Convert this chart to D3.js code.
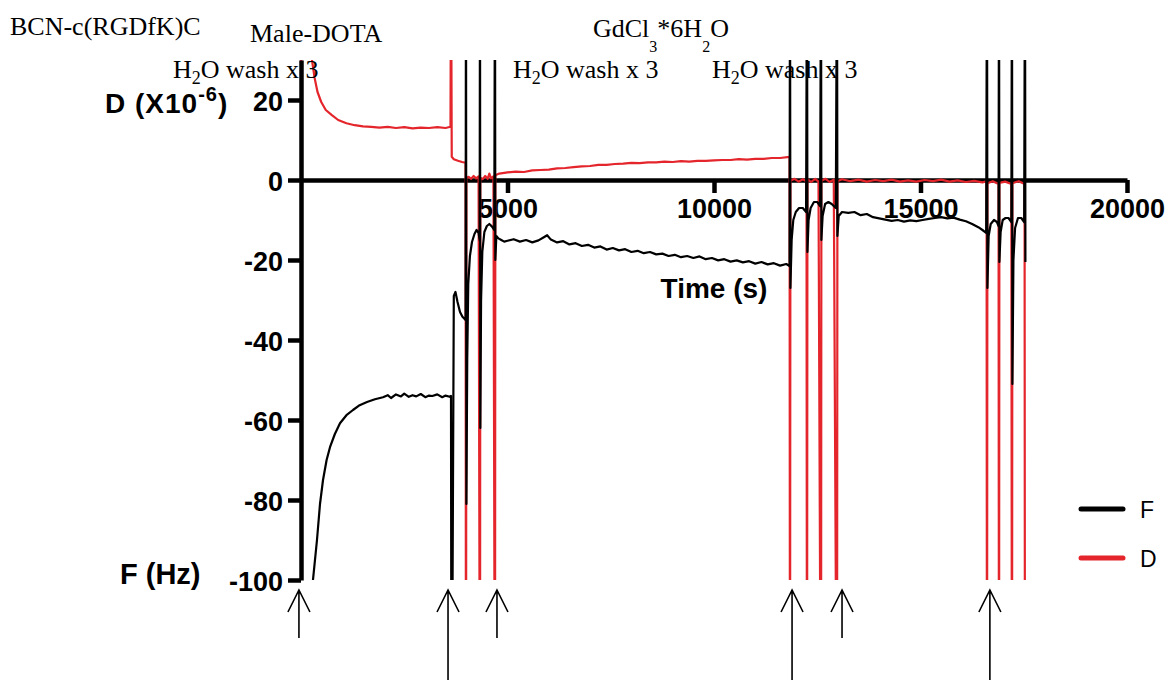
<!DOCTYPE html>
<html>
<head>
<meta charset="utf-8">
<title>QCM-D frequency and dissipation vs time</title>
<script src="https://d3js.org/d3.v7.min.js"></script>
<style>
    body { margin: 0; background: #fff; }
    .note { font-family: "Liberation Serif", "Times New Roman", serif; font-size: 26px; }
    .bold { font-family: "Liberation Sans", Arial, sans-serif; font-weight: bold; }
</style>
</head>
<body>
<svg id="chart" width="1169" height="680"></svg>
<script>
    // axis ticks
    const xTicks = [5000, 10000, 15000, 20000];
    const yTicks = [-100, -80, -60, -40, -20, 0, 20];

    // frequency trace [time s, Hz] (values past the axis range are the off-scale spikes)
    const fSeries = [
        [0, 0], [15, -160], [290, -100], [387, -90], [460, -81], [533, -75], [620, -70], [702, -66.8],
        [820, -63.5], [944, -60.8], [1100, -58.8], [1259, -57.5], [1420, -56.3], [1598, -55.5],
        [1790, -54.8], [1985, -54.3], [2100, -53.8], [2180, -54.5], [2300, -53.6], [2420, -54.1],
        [2500, -53.4], [2610, -54.2], [2700, -53.8], [2790, -54.1], [2900, -53.5], [3010, -54.3],
        [3100, -53.9], [3180, -54.0], [3300, -53.6], [3420, -54.3], [3500, -53.9], [3600, -54.2],
        [3632, -54.0], [3645, -160], [3700, -29], [3740, -28], [3790, -30.5], [3850, -33], [3910, -34.2],
        [3985, -35], [3995, 60], [4005, -81], [4025, -45], [4050, -26], [4090, -19], [4140, -15.5],
        [4200, -13.5], [4250, -12.5], [4300, -13.2], [4326, -15], [4334, 60], [4342, -62], [4360, -30],
        [4390, -18], [4440, -13], [4500, -11.5], [4560, -11], [4620, -11.6], [4680, -12.5],
        [4697, 60], [4705, -20], [4730, -14], [4780, -14.6], [4850, -15], [4920, -15.4],
        [5000, -15.2], [5150, -14.8], [5300, -15.4], [5450, -15.0], [5600, -15.6], [5750, -15.1],
        [5880, -14.3], [5960, -13.8], [6050, -14.9], [6200, -15.6], [6350, -15.3], [6500, -16.1],
        [6650, -15.8], [6800, -16.5], [6950, -16.2], [7100, -16.9], [7250, -16.6], [7400, -17.4],
        [7550, -17.0], [7700, -17.6], [7850, -17.3], [8000, -18.0], [8150, -17.7], [8300, -18.3],
        [8450, -18.0], [8600, -18.6], [8750, -18.4], [8900, -19.0], [9050, -18.7], [9200, -19.3],
        [9350, -19.0], [9500, -19.5], [9650, -19.1], [9800, -19.8], [9950, -19.5], [10100, -20.1],
        [10250, -19.8], [10400, -20.4], [10550, -20.1], [10700, -20.6], [10850, -20.3], [11000, -20.9],
        [11150, -20.5], [11300, -21.1], [11450, -20.8], [11600, -21.4], [11750, -21.0], [11830, -21.5],
        [11840, 60], [11850, -27], [11880, -15], [11920, -10], [11980, -8], [12060, -7], [12150, -7],
        [12230, -8], [12252, 60], [12262, -18], [12290, -10], [12340, -7], [12420, -5.5], [12500, -5.5],
        [12570, -6.5], [12591, 60], [12600, -15], [12630, -9], [12690, -6], [12770, -5.5], [12850, -6],
        [12950, -7], [12978, 60], [12988, -14], [13020, -9], [13100, -8], [13250, -8.2], [13400, -8],
        [13550, -8.8], [13700, -8.5], [13850, -9.3], [14000, -9.6], [14150, -9.9], [14300, -10.2],
        [14450, -10.0], [14600, -10.4], [14750, -10.1], [14900, -10.3], [15050, -10.0], [15200, -9.7],
        [15350, -9.5], [15500, -9.3], [15650, -9.6], [15800, -9.4], [15950, -9.9], [16100, -10.3],
        [16250, -11.0], [16400, -11.8], [16500, -12.5], [16590, -13.2],
        [16610, 60], [16620, -27], [16650, -14], [16700, -11], [16780, -10], [16850, -10.5], [16890, -11.5],
        [16901, 60], [16910, -20.5], [16940, -13], [16990, -10], [17060, -9.5], [17130, -9.5], [17200, -10.5],
        [17215, 60], [17225, -51], [17250, -20], [17290, -12], [17360, -9.5], [17440, -9.5], [17510, -10.5],
        [17530, 60], [17540, -20.5]
    ];

    // dissipation trace [time s, X10^-6]
    const dSeries = [
        [0, 0], [12, 60], [266, 30], [330, 25.5], [400, 22], [490, 19.5], [600, 17.5], [740, 16.3],
        [900, 15], [1100, 14.2], [1300, 13.7], [1500, 13.4], [1700, 13.3], [1900, 13.1], [2100, 13.3],
        [2300, 13.0], [2500, 13.2], [2700, 12.9], [2900, 13.1], [3100, 13.0], [3300, 13.2], [3500, 13.0],
        [3620, 13.3], [3632, 60], [3650, 5.8], [3700, 5.2], [3800, 4.8], [3900, 4.5], [3985, 4.3],
        [3995, -160], [4005, 0.5], [4060, 0.8], [4120, 0.3], [4180, 1.0], [4240, 0.4], [4300, 0.9],
        [4334, -160], [4342, 0.6], [4400, 0.2], [4460, 1.0], [4520, 0.3], [4560, 1.6], [4600, 0.4], [4660, 0.9],
        [4697, -160], [4705, 1.2], [4800, 1.6], [5000, 1.9], [5200, 2.1], [5400, 2.0], [5600, 2.4],
        [5800, 2.5], [6000, 2.6], [6200, 2.9], [6400, 3.0], [6600, 3.2], [6800, 3.4], [7000, 3.5],
        [7200, 3.8], [7400, 3.8], [7600, 4.0], [7800, 4.1], [8000, 4.3], [8200, 4.2], [8400, 4.4],
        [8600, 4.4], [8800, 4.6], [9000, 4.5], [9200, 4.7], [9400, 4.6], [9600, 4.8], [9800, 4.8],
        [10000, 4.9], [10200, 5.0], [10400, 5.0], [10600, 5.2], [10800, 5.1], [11000, 5.3], [11200, 5.3],
        [11400, 5.5], [11600, 5.5], [11830, 5.8],
        [11840, -160], [11850, -0.2], [11950, 0.3], [12050, -0.4], [12150, 0.2], [12240, -0.3],
        [12252, -160], [12262, 0.2], [12350, -0.5], [12450, 0.3], [12530, -0.4],
        [12591, -160], [12600, -0.2], [12700, 0.3], [12800, -0.5], [12900, 0.1],
        [12978, -160], [12988, -0.3], [13100, 0.2], [13300, -0.3], [13500, 0.1], [13700, -0.4],
        [13900, 0.0], [14100, -0.3], [14300, 0.1], [14500, -0.4], [14700, -0.1], [14900, -0.4],
        [15100, 0.0], [15300, -0.3], [15500, 0.1], [15700, -0.4], [15900, -0.1], [16100, -0.5],
        [16300, -0.2], [16500, -0.6], [16600, -0.3],
        [16610, -160], [16620, -0.8], [16750, -0.3], [16890, -1.0],
        [16901, -160], [16910, -0.7], [17050, -0.4], [17200, -1.0],
        [17215, -160], [17225, -0.8], [17380, -0.3], [17520, -1.0], [17530, -160]
    ];

    const legendNames = ["F", "D"];
    const seriesColors = ["#000000", "#e4252b"];

    // step annotations, as [text, isSubscript] pieces
    const notes = [
        [["BCN-c(RGDfK)C", 0]],
        [["Male-DOTA", 0]],
        [["H", 0], ["2", 1], ["O wash x 3", 0]],
        [["GdCl", 0], ["3", 1], ["*6H", 0], ["2", 1], ["O", 0]],
        [["H", 0], ["2", 1], ["O wash x 3", 0]],
        [["H", 0], ["2", 1], ["O wash x 3", 0]]
    ];

    // injection arrows under the plot (time s) and whether they are long
    const arrowTimes = [-50, 3560, 4745, 11890, 13100, 16680];
    const arrowLong = [false, true, false, true, false, true];

    const svg = d3.select("#chart");
    svg.append("rect").attr("width", 1169).attr("height", 680).attr("fill", "#fff");

    const x = d3.scaleLinear().domain([0, 20000]).range([301, 1127]);
    const y = d3.scaleLinear().domain([-100, 30]).range([580, 60]);

    svg.append("clipPath").attr("id", "plotclip")
        .append("rect").attr("x", 296).attr("y", 60).attr("width", 840).attr("height", 520);

    // x axis sits on zero
    const xAxis = svg.append("g")
        .attr("transform", "translate(0," + y(0) + ")")
        .call(d3.axisBottom(x).tickValues(xTicks).tickSize(13).tickSizeOuter(0).tickPadding(6)
            .tickFormat(d => String(d)));

    const line = d3.line().x(d => x(d[0])).y(d => y(d[1]));
    const traces = svg.append("g").attr("clip-path", "url(#plotclip)");
    traces.append("path").datum(dSeries)
        .attr("d", line).attr("fill", "none").attr("stroke", seriesColors[1])
        .attr("stroke-width", 2.2).attr("stroke-linejoin", "round");
    traces.append("path").datum(fSeries)
        .attr("d", line).attr("fill", "none").attr("stroke", seriesColors[0])
        .attr("stroke-width", 2.2).attr("stroke-linejoin", "round");

    const yAxis = svg.append("g")
        .attr("transform", "translate(" + x(0) + ",0)")
        .call(d3.axisLeft(y).tickValues(yTicks).tickSize(13).tickSizeOuter(0).tickPadding(5)
            .tickFormat(d => String(d)));

    [xAxis, yAxis].forEach(a => {
        a.select(".domain").attr("stroke-width", 4.5);
        a.selectAll(".tick line").attr("stroke-width", 4.5);
        a.selectAll(".tick text").attr("class", "bold").attr("font-size", 27).attr("fill", "#000");
    });
    yAxis.selectAll(".tick text").attr("dy", "0.4em");

    // axis titles
    const dTitle = svg.append("text").attr("class", "bold").attr("font-size", 28)
        .attr("letter-spacing", 1).attr("x", 105).attr("y", 113);
    dTitle.append("tspan").text("D (X10");
    dTitle.append("tspan").attr("font-size", 20).attr("dy", -12).text("-6");
    dTitle.append("tspan").attr("dy", 12).text(")");

    svg.append("text").attr("class", "bold").attr("font-size", 29)
        .attr("x", 120).attr("y", 584).text("F (Hz)");

    svg.append("text").attr("class", "bold").attr("font-size", 28)
        .attr("x", 714).attr("y", 298).attr("text-anchor", "middle").text("Time (s)");

    // legend
    legendNames.forEach((name, i) => {
        const ly = 509 + i * 49;
        svg.append("line").attr("x1", 1081).attr("x2", 1123).attr("y1", ly).attr("y2", ly)
            .attr("stroke", seriesColors[i]).attr("stroke-width", 5).attr("stroke-linecap", "round");
        svg.append("text").attr("x", 1140).attr("y", ly + 9)
            .attr("font-family", "'Liberation Sans', Arial, sans-serif").attr("font-size", 23)
            .text(name);
    });

    // step annotations
    const notePos = [[10, 35], [250, 42], [173, 78], [593, 37], [513, 78], [712, 78]];
    const noteDrop = [0, 0, 6, 15, 6, 6];
    notes.forEach((pieces, i) => {
        const t = svg.append("text").attr("class", "note")
            .attr("x", notePos[i][0]).attr("y", notePos[i][1]);
        let down = false;
        pieces.forEach(p => {
            const s = t.append("tspan").text(p[0]);
            if (p[1] && !down) { s.attr("dy", noteDrop[i]).attr("font-size", i === 3 ? 16 : 18); down = true; }
            else if (!p[1] && down) { s.attr("dy", -noteDrop[i]); down = false; }
        });
    });

    // arrows
    arrowTimes.forEach((t, i) => {
        const ax = x(t), tip = 590, bottom = arrowLong[i] ? 680 : 638;
        svg.append("path")
            .attr("d", "M" + ax + "," + bottom + "V" + tip +
                "M" + (ax - 11) + "," + (tip + 22) + "L" + ax + "," + tip + "L" + (ax + 11) + "," + (tip + 22))
            .attr("fill", "none").attr("stroke", "#000").attr("stroke-width", 1.6);
    });
</script>
</body>
</html>
